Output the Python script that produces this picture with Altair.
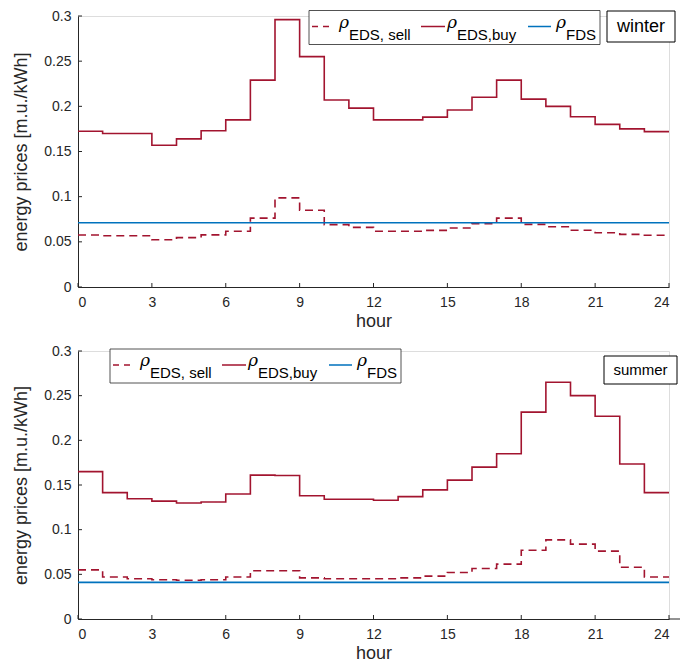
import altair as alt
import pandas as pd

hours = list(range(25))

winter_buy = [0.1725, 0.170, 0.170, 0.157, 0.164, 0.173, 0.185, 0.229, 0.296, 0.255,
              0.207, 0.198, 0.185, 0.185, 0.188, 0.196, 0.210, 0.229, 0.208, 0.200,
              0.1885, 0.180, 0.175, 0.172]
winter_sell = [0.0575, 0.0567, 0.0567, 0.0523, 0.0547, 0.0577, 0.0617, 0.0763, 0.0987, 0.085,
               0.069, 0.066, 0.0617, 0.0617, 0.0627, 0.0653, 0.070, 0.0763, 0.0693, 0.0667,
               0.0628, 0.060, 0.0583, 0.0573]
winter_fds = 0.0712

summer_buy = [0.165, 0.1415, 0.1346, 0.132, 0.1298, 0.131, 0.140, 0.161, 0.1607, 0.138,
              0.134, 0.134, 0.133, 0.137, 0.1445, 0.1555, 0.170, 0.185, 0.2316, 0.265,
              0.250, 0.227, 0.1735, 0.1415]
summer_sell = [0.055, 0.047, 0.045, 0.044, 0.0434, 0.044, 0.047, 0.054, 0.054, 0.046,
               0.045, 0.045, 0.045, 0.046, 0.048, 0.052, 0.0566, 0.0614, 0.077, 0.0886,
               0.0838, 0.076, 0.058, 0.047]
summer_fds = 0.041

x_ticks = [0, 3, 6, 9, 12, 15, 18, 21, 24]
y_ticks = [0, 0.05, 0.1, 0.15, 0.2, 0.25, 0.3]

series_names = ["sell", "buy", "fds"]
series_colors = ["#A2142F", "#A2142F", "#0072BD"]
series_dash = [[8, 5], [1, 0], [1, 0]]

RED = "#A2142F"
BLUE = "#0072BD"
AX = "#262626"
FONT = "Liberation Sans"


def make_df(sell, buy, fds):
    rows = []
    for name, vals in (("sell", sell), ("buy", buy), ("fds", [fds] * 24)):
        ext = list(vals) + [vals[-1]]
        for h, v in zip(hours, ext):
            rows.append({"hour": h, "price": v, "series": name})
    return pd.DataFrame(rows)


def one():
    return pd.DataFrame({"k": [0]})


def legend_layers(bx, by):
    layers = []
    layers.append(alt.Chart(one()).mark_rect(fill="white", stroke="#262626", strokeWidth=0.8).encode(
        x=alt.value(bx), x2=alt.value(bx + 291), y=alt.value(by), y2=alt.value(by + 34)))
    sy = by + 16
    samples = [(bx + 3, bx + 25, RED, [6, 5]), (bx + 112, bx + 136, RED, [1, 0]),
               (bx + 219, bx + 242, BLUE, [1, 0])]
    for x1, x2, col, dash in samples:
        layers.append(alt.Chart(one()).mark_rule(color=col, strokeWidth=1.6, strokeDash=dash).encode(
            x=alt.value(x1), x2=alt.value(x2), y=alt.value(sy)))
    labels = [(bx + 30, "EDS, sell"), (bx + 138, "EDS,buy"), (bx + 247, "FDS")]
    for x1, sub in labels:
        layers.append(alt.Chart(one()).mark_text(
            text="ρ", font="DejaVu Serif", fontStyle="italic", fontSize=17, align="left",
            baseline="alphabetic", color="black").encode(x=alt.value(x1), y=alt.value(by + 17)))
        layers.append(alt.Chart(one()).mark_text(
            text=sub, font=FONT, fontSize=15, align="left", baseline="alphabetic",
            color="black").encode(x=alt.value(x1 + 10), y=alt.value(by + 29)))
    return layers


def panel(sell, buy, fds, width, height, season, legend_xy, sbox, sfont, label_pad, extra_axis=False):
    df = make_df(sell, buy, fds)
    xs = alt.Scale(domain=[0, 24], nice=False, zero=False)
    ys = alt.Scale(domain=[0, 0.3], nice=False)
    base = alt.Chart(df).mark_line(interpolate="step-after", strokeWidth=1.6).encode(
        x=alt.X("hour:Q", scale=xs,
                axis=alt.Axis(values=x_ticks, title="hour", ticks=False, grid=False,
                              labelFont=FONT, labelFontSize=14, labelColor=AX, labelPadding=8,
                              titleFont=FONT, titleFontSize=18, titleFontWeight="normal",
                              titleColor=AX, titlePadding=3, domainColor=AX)),
        y=alt.Y("price:Q", scale=ys,
                axis=alt.Axis(values=y_ticks, title="energy prices [m.u./kWh]", ticks=False,
                              grid=False, labelFont=FONT, labelFontSize=14, labelColor=AX,
                              labelPadding=label_pad, labelExpr="format(datum.value, '~g')",
                              titleFont=FONT, titleFontSize=18, titleFontWeight="normal",
                              titleColor=AX, titlePadding=13, domainColor=AX)),
        color=alt.Color("series:N", scale=alt.Scale(domain=series_names, range=series_colors),
                        legend=None),
        strokeDash=alt.StrokeDash("series:N",
                                  scale=alt.Scale(domain=series_names, range=series_dash),
                                  legend=None),
        order=alt.Order("series:N"),
    )
    ytick_df = pd.DataFrame({"price": y_ticks})
    xtick_df = pd.DataFrame({"hour": x_ticks})
    yt = alt.Chart(ytick_df).mark_rule(color=AX, strokeWidth=1).encode(
        y=alt.Y("price:Q", scale=ys), x=alt.value(0), x2=alt.value(4))
    xt = alt.Chart(xtick_df).mark_rule(color=AX, strokeWidth=1).encode(
        x=alt.X("hour:Q", scale=xs), y=alt.value(height), y2=alt.value(height - 4))
    layers = [base, yt, xt]
    if extra_axis:
        layers.append(alt.Chart(one()).mark_rule(color=AX, strokeWidth=1).encode(
            x=alt.value(width), x2=alt.value(width + 11), y=alt.value(height)))
    layers += legend_layers(*legend_xy)
    bx1, by1, bx2, by2 = sbox
    layers.append(alt.Chart(one()).mark_rect(fill="white", stroke="black", strokeWidth=1).encode(
        x=alt.value(bx1), x2=alt.value(bx2), y=alt.value(by1), y2=alt.value(by2)))
    layers.append(alt.Chart(one()).mark_text(
        text=season, font=FONT, fontSize=sfont, align="center", baseline="middle",
        color="black").encode(x=alt.value((bx1 + bx2) / 2), y=alt.value((by1 + by2) / 2)))
    return alt.layer(*layers).properties(width=width, height=height)


top = panel(winter_sell, winter_buy, winter_fds, 591, 271, "winter",
            (231, -5.5), (529, -5, 597, 26), 18, 7)
bottom = panel(summer_sell, summer_buy, summer_fds, 591, 268, "summer",
               (32, -2), (526, 5, 599, 33), 15, 7, extra_axis=True)

chart = alt.vconcat(top, bottom, spacing=12).properties(
    padding={"left": 4, "top": 0, "right": 0, "bottom": 0}
).configure_view(stroke=None).configure(background="white")

chart.save("out.html", embed_options={"renderer": "svg", "actions": False})
